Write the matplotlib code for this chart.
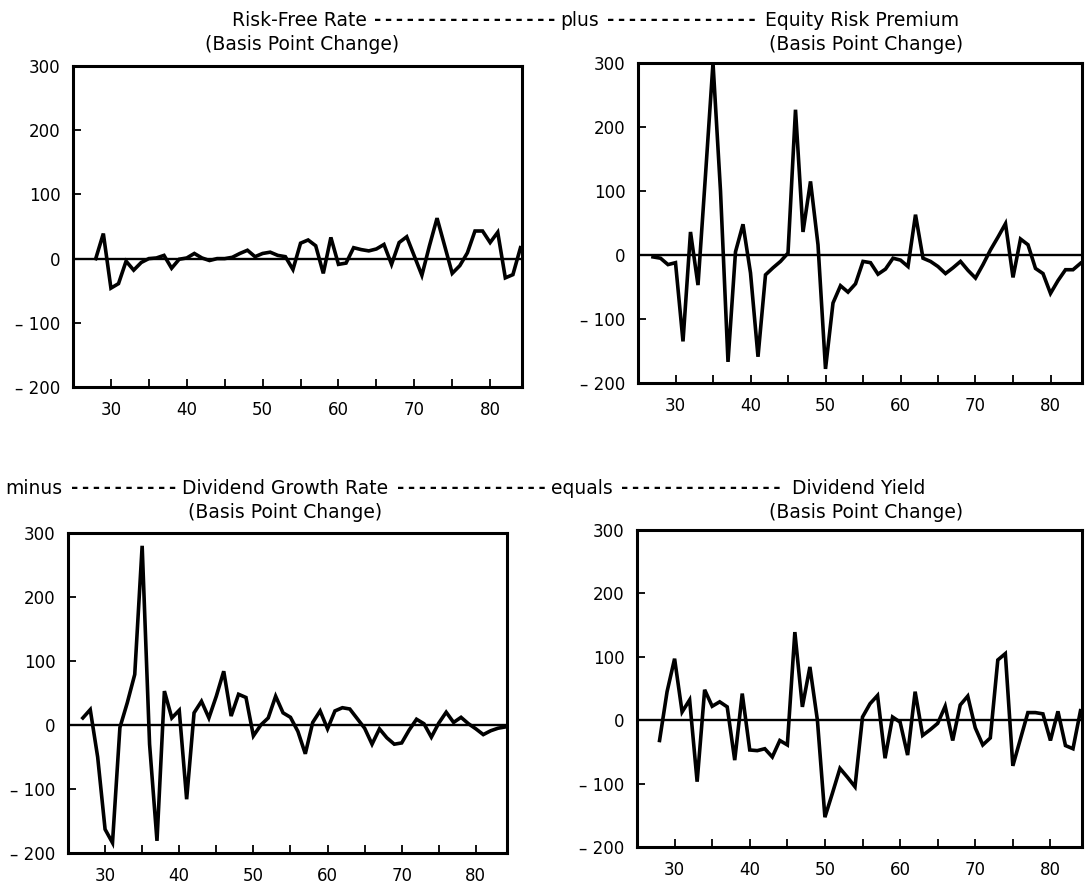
import numpy as np
import matplotlib.pyplot as plt

# annual changes, basis points (years as two digits, 19xx)
years_rf = list(range(28, 85))
risk_free = [0, 39, -46, -39, -4, -18, -6, 0, 1, 5, -15, -1, 1, 8, 1,
             -3, 0, 0, 2, 8, 13, 3, 8, 10, 5, 3, -17, 24, 29, 20,
             -23, 33, -9, -7, 17, 14, 12, 15, 22, -9, 25, 34, 4, -26, 20,
             63, 20, -23, -11, 9, 43, 43, 25, 41, -30, -25, 17]

years_erp = list(range(27, 85))
equity_premium = [-3, -5, -15, -12, -135, 36, -47, 125, 300, 100, -167, 5, 48, -28, -159,
                  -31, -20, -10, 3, 227, 36, 115, 16, -178, -75, -48, -58, -45, -10, -12,
                  -30, -22, -5, -8, -18, 63, -5, -10, -18, -29, -20, -10, -24, -36, -15,
                  8, 28, 49, -35, 25, 16, -21, -29, -60, -40, -23, -23, -13]

years_g = list(range(27, 85))
div_growth = [11, 24, -50, -163, -184, -4, 35, 79, 280, -30, -181, 53, 11, 23, -116,
              19, 37, 11, 45, 84, 14, 48, 43, -17, 0, 11, 45, 19, 12, -10,
              -45, 4, 22, -6, 22, 27, 25, 10, -5, -30, -6, -20, -30, -28, -8,
              9, 2, -19, 3, 20, 4, 12, 2, -6, -15, -9, -5, -3]

years_dy = list(range(28, 85))
div_yield = [-32, 45, 97, 13, 32, -97, 48, 22, 29, 21, -63, 42, -47, -48, -45,
             -58, -32, -39, 139, 21, 84, 0, -153, -115, -76, -90, -105, 5, 26, 39,
             -60, 5, -3, -55, 45, -24, -15, -5, 22, -32, 24, 38, -12, -39, -28,
             95, 105, -72, -30, 12, 12, 10, -32, 14, -40, -45, 15]

yticks = [-200, -100, 0, 100, 200, 300]
ytick_labels = ['\u2013 200', '\u2013 100', '0', '100', '200', '300']
xticks = [30, 40, 50, 60, 70, 80]
xtick_labels = ['30', '40', '50', '60', '70', '80']

W, H = 1092, 885
plt.rcParams['font.family'] = ['DejaVu Sans']
fig = plt.figure(figsize=(W / 100, H / 100), dpi=100)

def panel(rect, x, y):
    l, t, r, b = rect
    ax = fig.add_axes([l / W, 1 - b / H, (r - l) / W, (b - t) / H])
    ax.plot(x, y, color='black', linewidth=2.6, solid_joinstyle='miter')
    ax.axhline(0, color='black', linewidth=1.7)
    ax.set_xlim(25, 84.2)
    ax.set_ylim(-200, 300)
    ax.set_yticks(yticks)
    ax.set_yticklabels(ytick_labels)
    ax.set_xticks(xticks)
    ax.set_xticklabels(xtick_labels)
    ax.set_xticks([35, 45, 55, 65, 75], minor=True)
    ax.tick_params(axis='both', which='both', direction='in', length=6, width=1.3,
                   labelsize=12)
    ax.tick_params(axis='y', pad=9)
    ax.tick_params(axis='x', pad=10)
    for s in ax.spines.values():
        s.set_linewidth(2.2)
    return ax

panel((73, 66, 522, 387), years_rf, risk_free)
panel((638, 63, 1082, 383), years_erp, equity_premium)
panel((68, 533, 507, 853), years_g, div_growth)
panel((637, 530, 1082, 847), years_dy, div_yield)

def ftext(x, y, s, ha='left', size=13.5):
    fig.text(x / W, 1 - y / H, s, ha=ha, va='center', fontsize=size)

def dashes(x0, x1, y, n):
    fig.text((x0 + x1) / 2 / W, 1 - y / H, '-\u2009' * (n - 1) + '-', ha='center',
             va='center', fontsize=12.5, fontweight='bold')

# header rows
ftext(232, 20, 'Risk-Free Rate')
dashes(372, 558, 20, 17)
ftext(580, 20, 'plus', ha='center')
dashes(604, 758, 20, 14)
ftext(765, 20, 'Equity Risk Premium')
ftext(302, 45, '(Basis Point Change)', ha='center')
ftext(866, 45, '(Basis Point Change)', ha='center')

ftext(5, 488, 'minus')
dashes(72, 176, 488, 10)
ftext(182, 488, 'Dividend Growth Rate')
dashes(396, 546, 488, 14)
ftext(582, 488, 'equals', ha='center')
dashes(616, 786, 488, 15)
ftext(792, 488, 'Dividend Yield')
ftext(285, 512, '(Basis Point Change)', ha='center')
ftext(866, 512, '(Basis Point Change)', ha='center')

fig.savefig('out.png', dpi=100)
